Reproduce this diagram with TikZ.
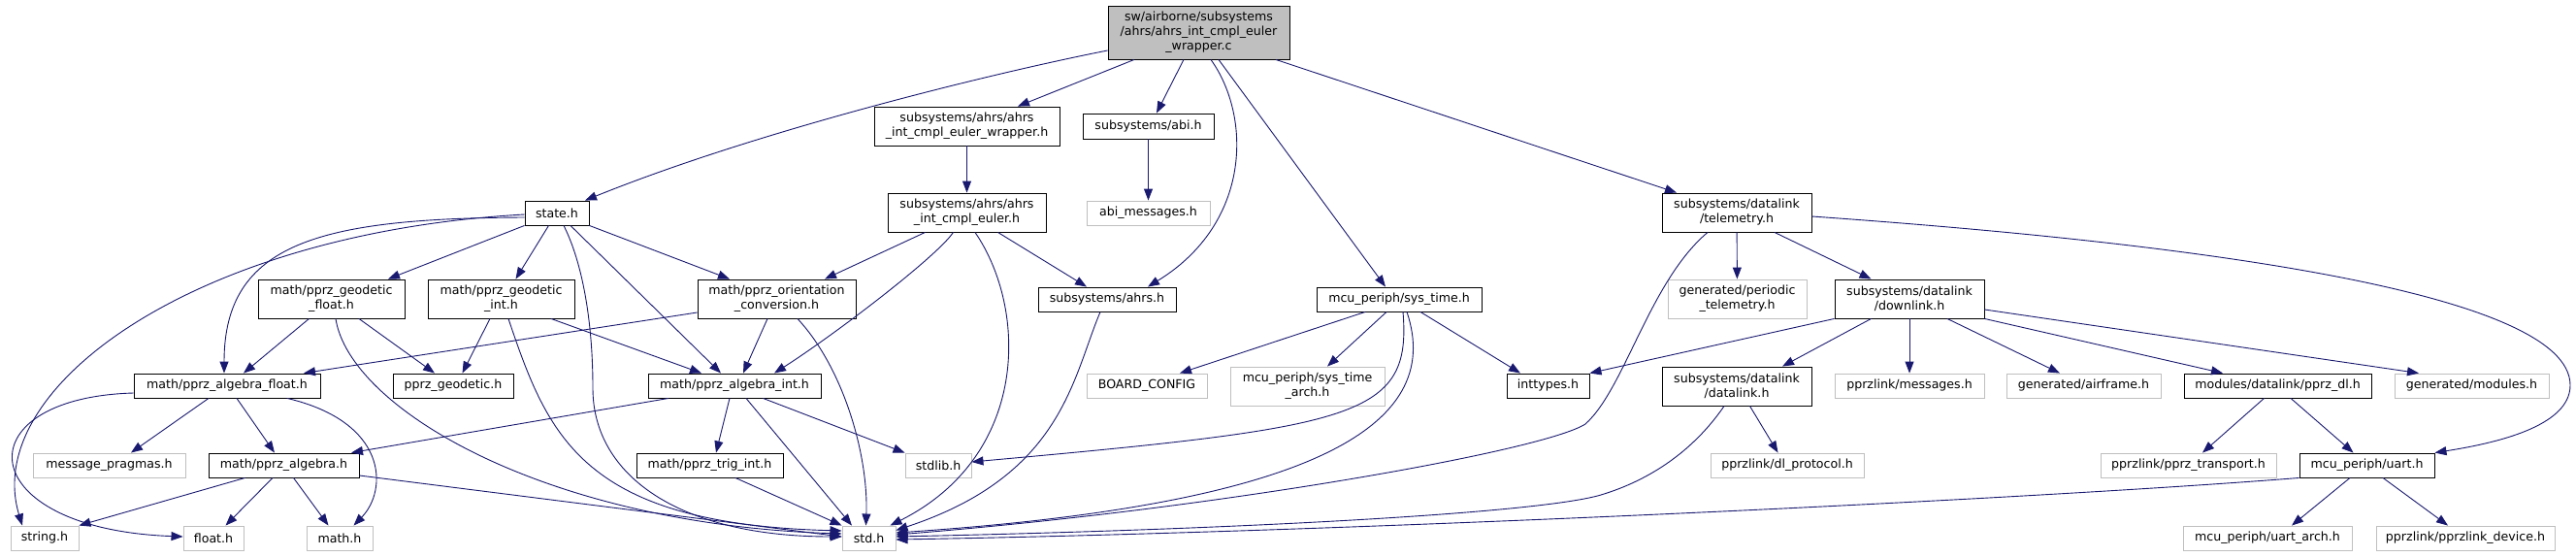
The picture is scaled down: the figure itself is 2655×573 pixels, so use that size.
\documentclass[tikz,border=0pt]{standalone}
\usepackage{fontspec}
\setmainfont{DejaVu Sans}
\usetikzlibrary{arrows.meta}
\definecolor{edgeblue}{HTML}{191970}
\definecolor{greyline}{HTML}{BFBFBF}

\begin{document}
\begin{tikzpicture}[x=1pt,y=-1pt,font=\fontsize{12.6}{15}\selectfont,
  doc/.style={draw=black,fill=white,line width=.9pt,inner sep=0pt,align=center},
  undoc/.style={doc,draw=greyline},
  root/.style={doc,fill=greyline},
  inc/.style={draw=edgeblue,line width=.9pt,-{Triangle[length=12pt,width=9pt]}}]
\fill[white] (0,0) rectangle (2655,573);
\useasboundingbox (0,0) rectangle (2655,573);
% files
\node[root,minimum width=187pt,minimum height=55pt] (main) at (1235.5,33.5) {sw/airborne/subsystems\\/ahrs/ahrs\_int\_cmpl\_euler\\\_wrapper.c};
\node[doc,minimum width=191pt,minimum height=40pt] (wrapper) at (996.5,130) {subsystems/ahrs/ahrs\\\_int\_cmpl\_euler\_wrapper.h};
\node[doc,minimum width=135pt,minimum height=26pt] (abi) at (1183.5,130) {subsystems/abi.h};
\node[doc,minimum width=163pt,minimum height=40pt] (euler) at (996.5,219) {subsystems/ahrs/ahrs\\\_int\_cmpl\_euler.h};
\node[undoc,minimum width=127pt,minimum height=25pt] (abimsg) at (1183.5,219.5) {abi\_messages.h};
\node[doc,minimum width=66pt,minimum height=25pt] (state) at (574,219.5) {state.h};
\node[doc,minimum width=154pt,minimum height=40pt] (telemetry) at (1790,219) {subsystems/datalink\\/telemetry.h};
\node[doc,minimum width=151pt,minimum height=40pt] (geofloat) at (341.5,308) {math/pprz\_geodetic\\\_float.h};
\node[doc,minimum width=151pt,minimum height=40pt] (geoint) at (516.5,308) {math/pprz\_geodetic\\\_int.h};
\node[doc,minimum width=163pt,minimum height=40pt] (orient) at (800.5,308) {math/pprz\_orientation\\\_conversion.h};
\node[doc,minimum width=142pt,minimum height=25pt] (ahrs) at (1141,308.5) {subsystems/ahrs.h};
\node[doc,minimum width=170pt,minimum height=25pt] (systime) at (1442,308.5) {mcu\_periph/sys\_time.h};
\node[undoc,minimum width=143pt,minimum height=40pt] (periodic) at (1790.5,308) {generated/periodic\\\_telemetry.h};
\node[doc,minimum width=154pt,minimum height=40pt] (downlink) at (1968,308) {subsystems/datalink\\/downlink.h};
\node[doc,minimum width=192pt,minimum height=25pt] (algfloat) at (234,397.5) {math/pprz\_algebra\_float.h};
\node[doc,minimum width=124pt,minimum height=25pt] (pprzgeo) at (467,397.5) {pprz\_geodetic.h};
\node[doc,minimum width=178pt,minimum height=25pt] (algint) at (757,397.5) {math/pprz\_algebra\_int.h};
\node[undoc,minimum width=124pt,minimum height=25pt] (boardcfg) at (1182,397.5) {BOARD\_CONFIG};
\node[undoc,minimum width=159pt,minimum height=40pt] (systimearch) at (1347.5,398) {mcu\_periph/sys\_time\\\_arch.h};
\node[doc,minimum width=85pt,minimum height=25pt] (inttypes) at (1595.5,397.5) {inttypes.h};
\node[doc,minimum width=154pt,minimum height=40pt] (datalink) at (1790,398) {subsystems/datalink\\/datalink.h};
\node[undoc,minimum width=154pt,minimum height=25pt] (messages) at (1968,397.5) {pprzlink/messages.h};
\node[undoc,minimum width=159pt,minimum height=25pt] (airframe) at (2147.5,397.5) {generated/airframe.h};
\node[doc,minimum width=193pt,minimum height=25pt] (pprzdl) at (2347.5,397.5) {modules/datalink/pprz\_dl.h};
\node[undoc,minimum width=159pt,minimum height=25pt] (modules) at (2547.5,397.5) {generated/modules.h};
\node[undoc,minimum width=157pt,minimum height=25pt] (pragmas) at (112.5,479.5) {message\_pragmas.h};
\node[doc,minimum width=155pt,minimum height=25pt] (algebra) at (292.5,479.5) {math/pprz\_algebra.h};
\node[doc,minimum width=151pt,minimum height=25pt] (trigint) at (731.5,479.5) {math/pprz\_trig\_int.h};
\node[undoc,minimum width=68pt,minimum height=25pt] (stdlib) at (967,479.5) {stdlib.h};
\node[undoc,minimum width=158pt,minimum height=25pt] (dlproto) at (1842,479.5) {pprzlink/dl\_protocol.h};
\node[undoc,minimum width=181pt,minimum height=25pt] (transport) at (2255.5,479.5) {pprzlink/pprz\_transport.h};
\node[doc,minimum width=139pt,minimum height=25pt] (uart) at (2439.5,479.5) {mcu\_periph/uart.h};
\node[undoc,minimum width=70pt,minimum height=25pt] (stringh) at (46,554.5) {string.h};
\node[undoc,minimum width=62pt,minimum height=25pt] (floath) at (220,554.5) {float.h};
\node[undoc,minimum width=68pt,minimum height=25pt] (mathh) at (350,554.5) {math.h};
\node[undoc,minimum width=55pt,minimum height=25pt] (stdh) at (895.5,554.5) {std.h};
\node[undoc,minimum width=174pt,minimum height=25pt] (uartarch) at (2337,554.5) {mcu\_periph/uart\_arch.h};
\node[undoc,minimum width=184pt,minimum height=25pt] (device) at (2541,554.5) {pprzlink/pprzlink\_device.h};
% includes of the wrapper
\draw[inc] ([yshift=-18.5pt]main.west) .. controls (1020,76) and (780,135) .. ([xshift=29pt]state.north);
\draw[inc] ([xshift=-66.5pt]main.south) -- ([xshift=52.5pt]wrapper.north);
\draw[inc] ([xshift=-15.5pt]main.south) -- ([xshift=8.5pt]abi.north);
\draw[inc] ([xshift=12.5pt]main.south) .. controls (1290,120) and (1290,230) .. ([xshift=42pt]ahrs.north);
\draw[inc] ([xshift=20.5pt]main.south) -- ([xshift=-14pt]systime.north);
\draw[inc] ([xshift=79.5pt]main.south) -- ([xshift=-62pt]telemetry.north);
\draw[inc] (wrapper) -- (euler);
\draw[inc] (abi) -- (abimsg);
% ahrs
\draw[inc] ([xshift=-43pt]euler.south) -- ([xshift=49.5pt]orient.north);
\draw[inc] ([xshift=-14pt]euler.south) .. controls (965,265) and (860,345) .. ([xshift=41pt]algint.north);
\draw[inc] ([xshift=8.5pt]euler.south) .. controls (1060,320) and (1060,470) .. ([xshift=22pt]stdh.north);
\draw[inc] ([xshift=32pt]euler.south) -- ([xshift=-21pt]ahrs.north);
\draw[inc] ([xshift=-7pt]ahrs.south) .. controls (1105,390) and (1095,490) .. ([yshift=8pt]stdh.east);
% sys_time
\draw[inc] ([xshift=-35pt]systime.south) -- ([xshift=34pt]boardcfg.north);
\draw[inc] ([xshift=-13pt]systime.south) -- ([xshift=20.5pt]systimearch.north);
\draw[inc] ([xshift=4pt]systime.south) .. controls (1455,430) and (1400,440) .. ([yshift=3.5pt]stdlib.east);
\draw[inc] ([xshift=8pt]systime.south) .. controls (1490,440) and (1350,520) .. ([yshift=5.5pt]stdh.east);
\draw[inc] ([xshift=22pt]systime.south) -- ([xshift=-28.5pt]inttypes.north);
% datalink side
\draw[inc] ([xshift=-30pt]telemetry.south) .. controls (1700,290) and (1675,400) .. (1634,437) .. controls (1590,465) and (1250,525) .. ([yshift=3.5pt]stdh.east);
\draw[inc] (telemetry) -- (periodic);
\draw[inc] ([xshift=39pt]telemetry.south) -- ([xshift=-39.5pt]downlink.north);
\draw[inc] ([yshift=-4pt]telemetry.east) .. controls (2250,250) and (2649,300) .. (2649,397) .. controls (2649,440) and (2570,457) .. (uart.north east);
\draw[inc] (downlink.south west) -- (inttypes.north east);
\draw[inc] ([xshift=-39.5pt]downlink.south) -- ([xshift=47pt]datalink.north);
\draw[inc] (downlink) -- (messages);
\draw[inc] ([xshift=39pt]downlink.south) -- ([xshift=-24.5pt]airframe.north);
\draw[inc] (downlink.south east) -- ([xshift=-56.5pt]pprzdl.north);
\draw[inc] ([yshift=-11pt]downlink.east) -- ([xshift=-54.5pt]modules.north);
\draw[inc] ([xshift=13.5pt]datalink.south) -- ([xshift=-9.5pt]dlproto.north);
\draw[inc] ([xshift=-13pt]datalink.south) .. controls (1745,465) and (1700,495) .. (1650,510) .. controls (1590,528) and (1300,545) .. ([yshift=1.5pt]stdh.east);
\draw[inc] ([xshift=-14pt]pprzdl.south) -- ([xshift=14.5pt]transport.north);
\draw[inc] ([xshift=13.5pt]pprzdl.south) -- ([xshift=-14pt]uart.north);
\draw[inc] (uart.south west) .. controls (2100,514) and (1400,548) .. ([yshift=-1.5pt]stdh.east);
\draw[inc] ([xshift=-17.5pt]uart.south) -- ([xshift=25pt]uartarch.north);
\draw[inc] ([xshift=16.5pt]uart.south) -- ([xshift=-18pt]device.north);
% state and math
\draw[inc] ([yshift=-4.5pt]state.west) .. controls (330,225) and (231,250) .. ([xshift=-3pt]algfloat.north);
\draw[inc] ([yshift=-1.5pt]state.west) .. controls (200,240) and (-20,400) .. ([xshift=-23pt]stringh.north);
\draw[inc] (state.south west) -- ([xshift=58.5pt]geofloat.north);
\draw[inc] ([xshift=-8.5pt]state.south) -- ([xshift=15pt]geoint.north);
\draw[inc] ([xshift=7pt]state.south) .. controls (600,270) and (611,330) .. (611,400) .. controls (611,490) and (700,553) .. ([yshift=1.5pt]stdh.west);
\draw[inc] ([xshift=14pt]state.south) -- ([xshift=-14pt]algint.north);
\draw[inc] (state.south east) -- ([xshift=-48.5pt]orient.north);
\draw[inc] ([xshift=-23pt]geofloat.south) -- ([xshift=17pt]algfloat.north);
\draw[inc] ([xshift=28.5pt]geofloat.south) -- ([xshift=-19pt]pprzgeo.north);
\draw[inc] ([xshift=4.5pt]geofloat.south) .. controls (360,420) and (560,540) .. ([yshift=4.5pt]stdh.west);
\draw[inc] ([xshift=-11.5pt]geoint.south) -- ([xshift=9.5pt]pprzgeo.north);
\draw[inc] ([xshift=51.5pt]geoint.south) -- ([xshift=-34pt]algint.north);
\draw[inc] ([xshift=7.5pt]geoint.south) .. controls (565,450) and (600,540) .. ([yshift=7.5pt]stdh.west);
\draw[inc] ([yshift=-14pt]orient.west) -- ([xshift=79pt]algfloat.north);
\draw[inc] ([xshift=-9.5pt]orient.south) -- ([xshift=9pt]algint.north);
\draw[inc] ([xshift=21.5pt]orient.south) .. controls (870,380) and (895,470) .. ([xshift=-3pt]stdh.north);
\draw[inc] ([yshift=-7.5pt]algfloat.west) .. controls (-40,410) and (-30,545) .. ([yshift=1.5pt]floath.west);
\draw[inc] ([xshift=-19pt]algfloat.south) -- ([xshift=22.5pt]pragmas.north);
\draw[inc] ([xshift=10pt]algfloat.south) -- ([xshift=-9.5pt]algebra.north);
\draw[inc] ([xshift=62pt]algfloat.south) .. controls (400,435) and (400,505) .. ([xshift=14.5pt]mathh.north);
\draw[inc] ([xshift=-68pt]algint.south) -- ([xshift=69.5pt]algebra.north);
\draw[inc] ([xshift=-5pt]algint.south) -- ([xshift=6.5pt]trigint.north);
\draw[inc] ([xshift=12pt]algint.south) -- ([xshift=-17.5pt]stdh.north);
\draw[inc] ([xshift=29.5pt]algint.south) -- (stdlib.north west);
\draw[inc] ([xshift=-40pt]algebra.south) -- (stringh.north east);
\draw[inc] ([xshift=-11.5pt]algebra.south) -- ([xshift=12.5pt]floath.north);
\draw[inc] ([xshift=10pt]algebra.south) -- ([xshift=-11.5pt]mathh.north);
\draw[inc] ([yshift=-10.5pt]algebra.east) -- ([yshift=1.5pt]stdh.west);
\draw[inc] ([xshift=26.5pt]trigint.south) -- (stdh.north west);
\end{tikzpicture}
\end{document}
